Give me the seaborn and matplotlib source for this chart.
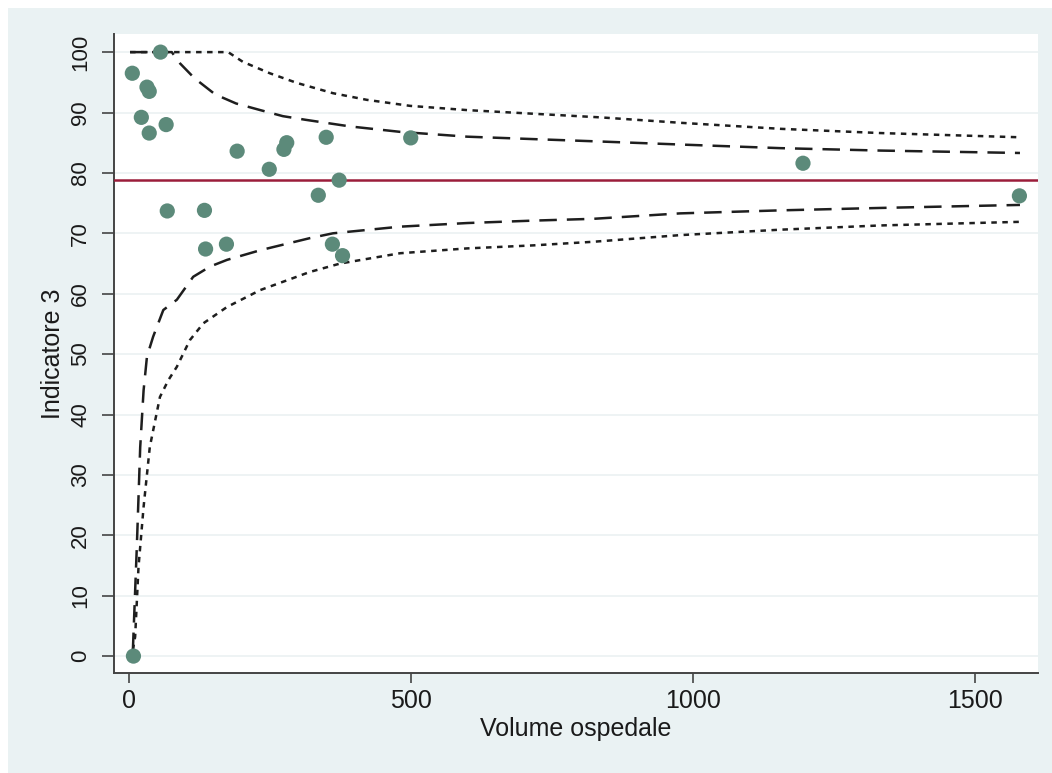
import matplotlib
matplotlib.use("Agg")
import matplotlib.pyplot as plt
import seaborn as sns
import pandas as pd
from matplotlib.patches import Rectangle

# ---- data ----
volume = [5, 31, 35, 21, 35, 65, 55, 191, 248, 279, 274, 349, 372, 335,
          67, 133, 135, 172, 360, 378, 1195, 1579, 7, 499]
indicator = [96.5, 94.2, 93.5, 89.2, 86.6, 88.0, 100.0, 83.6, 80.6, 85.0, 83.9, 85.9,
             78.8, 76.3, 73.7, 73.8, 67.4, 68.2, 68.2, 66.3, 81.6, 76.2, 0.0, 85.8]

mean_value = 78.8

upper95_x = [1, 75, 90, 115, 152, 189, 232, 272, 312, 391, 480, 599, 716, 835, 977, 1155, 1332, 1580]
upper95_y = [100, 100, 98.1, 95.7, 93.0, 91.5, 90.4, 89.4, 88.8, 87.7, 86.8, 86.0, 85.6, 85.2,
             84.7, 84.1, 83.7, 83.3]

upper998_x = [1, 175, 201, 249, 297, 361, 421, 498, 599, 716, 835, 977, 1155, 1332, 1580]
upper998_y = [100, 100, 98.4, 96.5, 94.9, 93.2, 92.1, 91.1, 90.4, 89.8, 89.2, 88.3, 87.3, 86.6, 85.9]

lower95_x = [6, 13, 19, 25, 31, 42, 60, 84, 113, 143, 173, 232, 320, 361, 480, 599, 716, 823,
             977, 1155, 1332, 1580]
lower95_y = [1, 18.1, 34.6, 44.0, 49.6, 52.9, 57.3, 59.0, 62.8, 64.5, 65.6, 67.2, 69.2, 70.0,
             71.1, 71.7, 72.1, 72.4, 73.3, 73.8, 74.2, 74.7]

lower998_x = [6, 10, 16, 25, 36, 54, 69, 84, 107, 131, 173, 232, 320, 374, 480, 599, 716, 823,
              977, 1155, 1332, 1580]
lower998_y = [1, 3.2, 14.8, 24.7, 34.6, 42.9, 45.7, 47.9, 52.3, 55.1, 57.8, 60.6, 63.6, 65.0,
              66.7, 67.5, 68.0, 68.6, 69.7, 70.6, 71.3, 71.9]

x_ticks = [0, 500, 1000, 1500]
y_ticks = [0, 10, 20, 30, 40, 50, 60, 70, 80, 90, 100]

x_label = "Volume ospedale"
y_label = "Indicatore 3"

# ---- styling ----
sns.set_theme(style="white")
plt.rcParams["font.family"] = ["Liberation Sans", "DejaVu Sans"]

W, H = 1052, 773
fig = plt.figure(figsize=(W / 100, H / 100), dpi=100, facecolor="white")
fig.patches.append(Rectangle((8 / W, 0), 1 - 8 / W, 1 - 8 / H, transform=fig.transFigure,
                             facecolor="#EAF2F3", edgecolor="none", zorder=-10))

ax = fig.add_axes([114 / W, 1 - 673 / H, (1038 - 114) / W, (673 - 34) / H])
ax.set_facecolor("white")

for yv in y_ticks:
    ax.axhline(yv, color="#EBF1F2", lw=1.2, zorder=0)

curve_dark = "#1E1E1E"
def curve(xs, ys, dashes):
    df = pd.DataFrame({"x": xs, "y": ys})
    sns.lineplot(data=df, x="x", y="y", ax=ax, sort=False, estimator=None,
                 color=curve_dark, lw=1.8, dashes=False, zorder=2)
    ax.lines[-1].set_dashes(dashes)

curve(upper95_x, upper95_y, (7, 4))
curve(lower95_x, lower95_y, (7, 4))
curve(upper998_x, upper998_y, (2.2, 2.2))
curve(lower998_x, lower998_y, (2.2, 2.2))

ax.axhline(mean_value, color="#9B1D3A", lw=1.8, zorder=3)

pts = pd.DataFrame({"volume": volume, "indicator": indicator})
sns.scatterplot(data=pts, x="volume", y="indicator", ax=ax, s=120, color="#5C8A7A",
                edgecolor="none", zorder=4, clip_on=False)

ax.set_xlim(-27.5, 1612)
ax.set_ylim(-2.8, 103)
ax.set_xticks(x_ticks)
ax.set_yticks(y_ticks)

for side in ["top", "right"]:
    ax.spines[side].set_visible(False)
for side in ["left", "bottom"]:
    ax.spines[side].set_color("#444444")
    ax.spines[side].set_linewidth(1.4)

ax.tick_params(axis="x", direction="out", length=7.5, width=1.2, color="#444444",
               labelsize=18, pad=4, bottom=True, labelcolor="#1a1a1a")
ax.tick_params(axis="y", direction="out", length=8.5, width=1.2, color="#444444",
               labelsize=16, pad=8, left=True, labelcolor="#1a1a1a")
for lab in ax.get_yticklabels():
    lab.set_rotation(90)
    lab.set_va("center")

ax.set_xlabel(x_label, fontsize=18, color="#1a1a1a", labelpad=3)
ax.set_ylabel(y_label, fontsize=18, color="#1a1a1a", labelpad=4)

fig.savefig("out.png", dpi=100, facecolor=fig.get_facecolor())
